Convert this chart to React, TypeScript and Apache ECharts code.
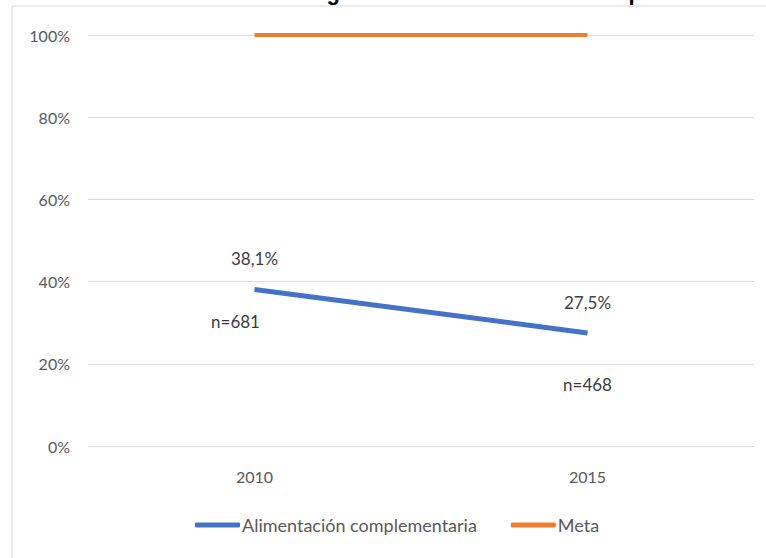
import React, { useEffect, useRef } from "react";
import * as echarts from "echarts";

const years = ["2010", "2015"];
const alimentacion = [38.1, 27.5];
const sampleSizes = ["n=681", "n=468"];
const meta = [100, 100];
const yTicks = [0, 20, 40, 60, 80, 100];

const FONT = "Lato, 'Open Sans', sans-serif";
const BLUE = "#4472C4";
const ORANGE = "#ED7D31";
const GREY = "#595959";

export default function App() {
  const ref = useRef<HTMLDivElement>(null);

  useEffect(() => {
    if (!ref.current) return;
    const chart = echarts.init(ref.current, null, { renderer: "svg" });
    const nOffsets = [
      [-19, 32],
      [0, 52],
    ];
    chart.setOption({
      animation: false,
      backgroundColor: "#ffffff",
      textStyle: { fontFamily: FONT },
      graphic: [
        {
          type: "rect",
          shape: { x: 12, y: 6, width: 820, height: 620 },
          style: { fill: "none", stroke: "#d9d9d9", lineWidth: 1 },
          silent: true,
        },
        {
          type: "text",
          x: 752,
          y: -18.5,
          style: {
            text: "Gráfico 2. Meta - Resultado general de alimentación complementaria",
            align: "right",
            verticalAlign: "top",
            fill: "#000",
            font: "bold 22px Arial, sans-serif",
          },
          silent: true,
        },
      ],
      grid: { left: 88, right: 12, top: 35, bottom: 112 },
      legend: {
        bottom: 19,
        left: 190,
        itemWidth: 45,
        itemHeight: 5,
        itemGap: 34,
        icon: "roundRect",
        textStyle: { color: GREY, fontSize: 18, fontFamily: FONT, padding: [0, 0, 0, -3] },
        data: ["Alimentación complementaria", "Meta"],
      },
      xAxis: {
        type: "category",
        data: years,
        boundaryGap: true,
        axisLine: { show: false },
        axisTick: { show: false },
        axisLabel: { color: GREY, fontSize: 16, margin: 22, fontFamily: FONT },
      },
      yAxis: {
        type: "value",
        min: yTicks[0],
        max: yTicks[yTicks.length - 1],
        interval: 20,
        axisLine: { show: false },
        axisTick: { show: false },
        splitLine: { lineStyle: { color: "#d9d9d9", width: 1 } },
        axisLabel: {
          color: GREY,
          fontSize: 16,
          margin: 18,
          fontFamily: FONT,
          formatter: (v: number) => `${v}%`,
        },
      },
      series: [
        {
          name: "Alimentación complementaria",
          type: "line",
          data: alimentacion,
          symbol: "circle",
          symbolSize: 0,
          showSymbol: true,
          lineStyle: { color: BLUE, width: 5 },
          itemStyle: { color: BLUE },
          label: {
            show: true,
            position: "top",
            distance: 22,
            color: "#404040",
            fontSize: 17,
            fontFamily: FONT,
            formatter: (p: any) => `${String(p.value).replace(".", ",")}%`,
          },
        },
        {
          name: "Meta",
          type: "line",
          data: meta,
          symbol: "none",
          lineStyle: { color: ORANGE, width: 4 },
          itemStyle: { color: ORANGE },
        },
        {
          name: "n",
          type: "scatter",
          data: alimentacion.map((v, i) => ({
            value: v,
            label: { offset: nOffsets[i] },
          })),
          symbolSize: 0,
          silent: true,
          label: {
            show: true,
            position: "inside",
            color: "#000",
            fontSize: 17,
            fontFamily: FONT,
            formatter: (p: any) => sampleSizes[p.dataIndex],
          },
        },
      ],
    });
    return () => chart.dispose();
  }, []);

  return (
    <div
      ref={ref}
      style={{ position: "absolute", left: 0, top: 0, width: 766, height: 558 }}
    />
  );
}
